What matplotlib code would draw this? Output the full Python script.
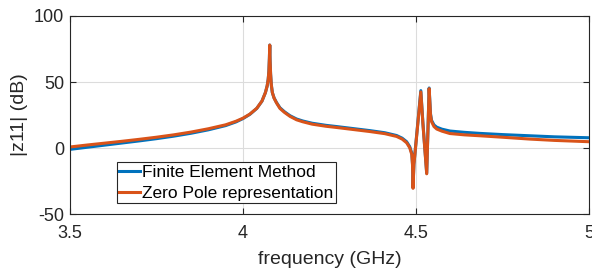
import matplotlib
matplotlib.use("Agg")
import matplotlib.pyplot as plt

freq = [3.50, 3.55, 3.60, 3.65, 3.70, 3.75, 3.80, 3.85, 3.90, 3.95, 3.98, 4.00,
        4.02, 4.04, 4.055, 4.065, 4.070, 4.073, 4.075, 4.0765, 4.0775, 4.0785,
        4.080, 4.082, 4.085, 4.090, 4.097, 4.107, 4.120, 4.136, 4.155, 4.173,
        4.20, 4.24, 4.27, 4.32, 4.367, 4.41, 4.444, 4.46, 4.473, 4.482, 4.488,
        4.490, 4.4915, 4.494, 4.497, 4.514, 4.520, 4.531, 4.538, 4.542, 4.545,
        4.552, 4.560, 4.575, 4.598, 4.64, 4.685, 4.75, 4.829, 4.90, 5.00]

fem = [-1.0, 0.6, 2.2, 3.8, 5.4, 7.1, 9.0, 11.2, 13.8, 17.0, 19.8, 22.3,
       25.5, 30.0, 35.5, 42.0, 47.0, 52.0, 58.0, 68.0, 78.0, 66.0,
       56.0, 48.0, 42.0, 38.0, 34.5, 30.5, 27.5, 24.5, 22.0, 20.5,
       18.8, 17.2, 16.3, 14.7, 13.2, 11.6, 9.5, 7.5, 4.8, 1.0, -4.0,
       -12.0, -30.0, -12.0, -4.0, 43.5, 19.0, -19.0, 45.5, 26.0, 21.0,
       17.5, 15.8, 14.3, 12.9, 11.9, 11.1, 10.2, 9.3, 8.5, 7.8]

zp = [0.8, 2.3, 3.7, 5.1, 6.6, 8.2, 10.0, 12.1, 14.6, 17.6, 20.3, 22.6,
      25.7, 30.1, 35.6, 42.0, 47.0, 52.0, 58.0, 68.0, 78.0, 66.0,
      56.0, 48.0, 42.0, 37.8, 34.2, 30.0, 27.0, 24.0, 21.4, 19.9,
      18.1, 16.5, 15.6, 14.0, 12.5, 10.9, 8.8, 6.8, 4.0, 0.2, -5.0,
      -13.0, -30.5, -12.5, -4.5, 42.5, 18.5, -19.5, 45.0, 25.0, 20.0,
      16.3, 14.4, 12.8, 11.0, 10.0, 9.3, 8.2, 6.8, 5.8, 4.8]

xticks = [3.5, 4, 4.5, 5]
xticklabels = ["3.5", "4", "4.5", "5"]
yticks = [-50, 0, 50, 100]
yticklabels = ["-50", "0", "50", "100"]

plt.rcParams['font.family'] = ['Liberation Sans', 'DejaVu Sans']
plt.rcParams['axes.unicode_minus'] = False

fig = plt.figure(figsize=(5.92, 2.71), dpi=100)
ax = fig.add_axes([0.118, 0.210, 0.877, 0.731])

ax.plot(freq, fem, color='#0072BD', lw=2.2, label='Finite Element Method')
ax.plot(freq, zp, color='#D95319', lw=2.2, label='Zero Pole representation')

ax.set_xlim(3.5, 5)
ax.set_ylim(-50, 100)
ax.set_xticks(xticks)
ax.set_xticklabels(xticklabels)
ax.set_yticks(yticks)
ax.set_yticklabels(yticklabels)
ax.grid(True, color='#dcdcdc', lw=0.8)
ax.set_axisbelow(True)
ax.tick_params(direction='in', top=True, right=True, labelsize=13, length=4,
               color='#262626', labelcolor='#262626')
ax.tick_params(axis='x', pad=8)
ax.tick_params(axis='y', pad=4)
for s in ax.spines.values():
    s.set_color('#262626')
    s.set_linewidth(0.8)

ax.set_xlabel('frequency (GHz)', fontsize=14, color='#262626', labelpad=6)
ax.set_ylabel('|z11| (dB)', fontsize=14, color='#262626')

leg = ax.legend(loc='lower left', bbox_to_anchor=(0.090, 0.055), borderaxespad=0,
                fontsize=12.5, handlelength=1.2, handletextpad=0.1,
                borderpad=0.15, labelspacing=0.3, fancybox=False, framealpha=1)
leg.get_frame().set_edgecolor('#262626')
leg.get_frame().set_linewidth(0.8)

fig.savefig('out.png', dpi=100)
